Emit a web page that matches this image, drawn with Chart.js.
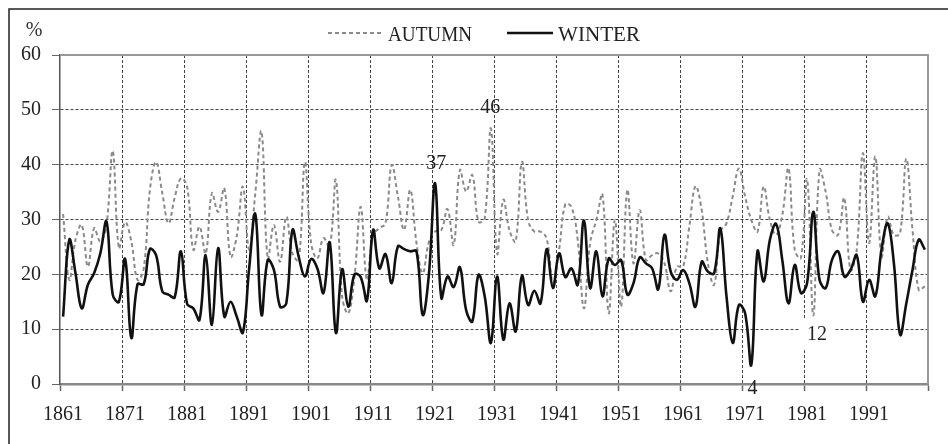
<!DOCTYPE html>
<html>
<head>
<meta charset="utf-8">
<script src="https://cdn.jsdelivr.net/npm/chart.js@4.4.1/dist/chart.umd.min.js"></script>
<style>
  html, body { margin: 0; padding: 0; background: #fff; }
  canvas { display: block; }
</style>
</head>
<body>
<canvas id="chart" width="948" height="444"></canvas>
<script>
// one category per year, 1861..2000
const years = [];
for (let y = 1861; y <= 2000; y++) years.push(String(y));

const tickLabels = ['1861', '1871', '1881', '1891', '1901', '1911', '1921',
  '1931', '1941', '1951', '1961', '1971', '1981', '1991'];

const autumn = [
  31.0, 19.0, 26.3, 29.0, 21.4, 28.4, 26.0, 29.0, 42.5, 24.8,
  29.5, 26.0, 19.0, 21.0, 35.4, 40.5, 34.8, 29.3, 34.0, 37.5,
  36.0, 24.5, 28.7, 23.8, 34.8, 31.4, 35.7, 23.2, 26.9, 36.0,
  24.5, 34.8, 46.0, 22.9, 29.0, 22.3, 30.5, 23.8, 22.6, 40.5,
  25.7, 22.9, 26.6, 25.0, 37.2, 16.0, 12.9, 19.6, 32.3, 19.0,
  27.2, 28.4, 29.3, 39.9, 34.2, 28.1, 35.4, 25.7, 20.2, 25.9,
  27.8, 28.1, 31.9, 25.4, 39.0, 35.1, 38.1, 29.6, 30.2, 46.6,
  23.8, 33.6, 28.0, 26.0, 40.5, 29.9, 27.8, 27.8, 26.5, 18.5,
  24.5, 32.8, 32.3, 26.3, 13.8, 25.7, 29.9, 34.5, 12.9, 29.9,
  14.1, 35.4, 22.0, 31.7, 22.6, 23.5, 23.8, 22.0, 16.9, 21.4,
  21.4, 28.7, 36.1, 31.7, 22.0, 18.1, 27.8, 29.3, 34.2, 39.3,
  34.2, 29.9, 27.8, 36.0, 29.9, 27.2, 30.8, 39.3, 24.5, 23.0,
  37.3, 12.5, 39.0, 35.0, 28.1, 27.2, 33.9, 20.8, 24.5, 42.1,
  25.7, 41.5, 23.2, 30.5, 27.2, 27.5, 41.1, 28.1, 17.2, 17.8
];

const winter = [
  12.3, 26.3, 20.2, 13.8, 18.1, 20.2, 23.8, 29.6, 16.3, 15.0,
  22.8, 8.4, 18.2, 18.2, 24.6, 23.5, 16.9, 16.3, 15.8, 24.2,
  14.6, 13.8, 11.7, 23.5, 10.8, 24.8, 12.3, 15.0, 12.3, 9.4,
  21.0, 31.0, 12.6, 22.6, 20.8, 14.1, 14.7, 28.1, 23.2, 19.6,
  22.8, 21.1, 16.6, 25.8, 9.3, 20.9, 14.1, 20.0, 19.5, 15.2,
  28.1, 21.1, 23.7, 18.4, 25.1, 24.6, 24.2, 24.2, 12.6, 20.0,
  36.6, 15.7, 19.6, 17.7, 21.3, 13.5, 11.4, 19.9, 16.0, 7.5,
  19.6, 8.1, 14.7, 9.6, 19.7, 14.4, 17.0, 14.7, 24.6, 17.5,
  23.8, 19.5, 21.1, 18.1, 29.8, 17.5, 24.2, 16.0, 22.9, 21.7,
  22.6, 16.3, 18.4, 23.1, 22.0, 21.1, 17.3, 27.2, 20.5, 19.0,
  20.8, 18.4, 14.1, 22.3, 20.5, 20.2, 28.4, 16.0, 7.5, 14.4,
  12.9, 3.5, 24.2, 18.7, 26.3, 29.2, 22.6, 14.7, 21.7, 16.6,
  18.4, 31.4, 19.0, 17.5, 22.6, 24.2, 19.6, 20.8, 23.5, 15.0,
  19.0, 16.0, 24.5, 29.3, 22.0, 9.0, 14.7, 20.8, 26.3, 24.5
];

// value labels written on the chart (index position, value position)
const notes = [
  { text: '46', at: 68.9, value: 50.3, box: false },
  { text: '37', at: 60.2, value: 40.2, box: false },
  { text: '12', at: 121.6, value: 8.9, box: true },
  { text: '4', at: 111.2, value: -0.9, box: false }
];

const serif = 'Liberation Serif, Times New Roman, serif';
Chart.defaults.font.family = serif;
const clear = 'rgba(0,0,0,0)';

const extras = {
  id: 'extras',
  afterDraw(chart) {
    const ctx = chart.ctx;
    const a = chart.chartArea;
    const xs = chart.scales.x, ys = chart.scales.y;
    ctx.save();

    // plot frame (top and right)
    ctx.strokeStyle = '#999';
    ctx.lineWidth = 2;
    ctx.beginPath();
    ctx.moveTo(a.left, a.top);
    ctx.lineTo(a.right, a.top);
    ctx.lineTo(a.right, a.bottom);
    ctx.stroke();

    // outer frame
    ctx.strokeStyle = '#222';
    ctx.lineWidth = 1.5;
    ctx.beginPath();
    ctx.moveTo(9, 444);
    ctx.lineTo(9, 9);
    ctx.lineTo(948, 9);
    ctx.stroke();

    // unit
    ctx.fillStyle = '#333';
    ctx.font = '20px ' + serif;
    ctx.textAlign = 'center';
    ctx.textBaseline = 'middle';
    ctx.fillText('%', 34, 31);

    // legend
    const items = [
      { ds: chart.data.datasets[0], x0: 328, x1: 383, w: 84 },
      { ds: chart.data.datasets[1], x0: 507, x1: 553, w: 82 }
    ];
    items.forEach(it => {
      ctx.strokeStyle = it.ds.borderColor;
      ctx.lineWidth = it.ds.borderWidth;
      ctx.setLineDash(it.ds.borderDash || []);
      ctx.beginPath();
      ctx.moveTo(it.x0, 33);
      ctx.lineTo(it.x1, 33);
      ctx.stroke();
      ctx.setLineDash([]);
      ctx.fillStyle = '#222';
      ctx.font = '22px ' + serif;
      ctx.textAlign = 'left';
      ctx.textBaseline = 'alphabetic';
      ctx.fillText(it.ds.label, it.x1 + 5, 41, it.w);
    });

    // value notes
    notes.forEach(n => {
      const px = xs.getPixelForValue(n.at);
      const py = ys.getPixelForValue(n.value);
      ctx.font = '20px ' + serif;
      ctx.textAlign = 'center';
      ctx.textBaseline = 'middle';
      if (n.box) {
        ctx.fillStyle = '#fff';
        ctx.fillRect(px - 17, py - 17, 34, 32);
      }
      ctx.fillStyle = '#222';
      ctx.fillText(n.text, px, py);
    });
    ctx.restore();
  }
};

new Chart(document.getElementById('chart'), {
  type: 'line',
  data: {
    labels: years,
    datasets: [
      {
        label: 'AUTUMN',
        data: autumn,
        borderColor: '#8a8a8a',
        borderWidth: 2,
        borderDash: [4, 3],
        pointRadius: 0,
        tension: 0.4,
        order: 1
      },
      {
        label: 'WINTER',
        data: winter,
        borderColor: '#111',
        borderWidth: 2.6,
        pointRadius: 0,
        tension: 0.4,
        order: 0
      }
    ]
  },
  options: {
    responsive: false,
    animation: false,
    layout: { padding: { top: 55, right: 20, bottom: 0, left: 0 } },
    plugins: {
      legend: { display: false },
      tooltip: { enabled: false }
    },
    scales: {
      x: {
        type: 'category',
        offset: true,
        grid: {
          offset: true,
          lineWidth: 1,
          color: c => (c.index > 0 && c.index % 10 === 0) ? '#444' : clear,
          tickColor: c => (c.index === undefined || c.index % 10 === 0) ? '#666' : clear,
          tickLength: 7,
          tickWidth: 1.5
        },
        border: { color: '#888', width: 2.5, dash: [3, 2] },
        ticks: {
          autoSkip: false,
          maxRotation: 0,
          minRotation: 0,
          padding: 12,
          color: '#222',
          font: { size: 20 },
          callback: function (value) {
            const lab = this.getLabelForValue(value);
            return tickLabels.includes(lab) ? lab : '';
          }
        },
        afterFit: s => { s.height = 60; }
      },
      y: {
        min: 0,
        max: 60,
        grid: {
          lineWidth: 1,
          color: c => (c.tick && c.tick.value > 0 && c.tick.value < 60) ? '#444' : clear,
          tickColor: '#666',
          tickLength: 8
        },
        border: { color: '#555', width: 1.5, dash: [3, 2] },
        ticks: {
          stepSize: 10,
          padding: 11,
          color: '#222',
          font: { size: 20 }
        },
        afterFit: s => { s.width = 60; }
      }
    }
  },
  plugins: [extras]
});
</script>
</body>
</html>
